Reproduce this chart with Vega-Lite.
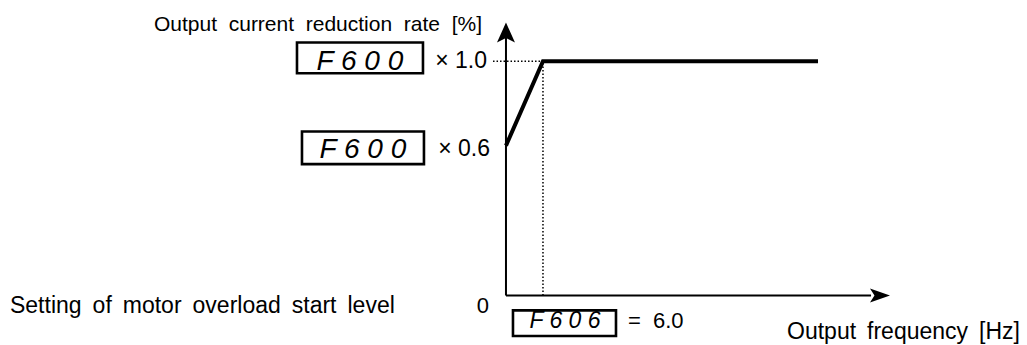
{
  "$schema": "https://vega.github.io/schema/vega-lite/v6.json",
  "width": 1027,
  "height": 345,
  "autosize": {"type": "fit", "contains": "padding"},
  "padding": 0,
  "background": "white",
  "config": {"view": {"stroke": null}, "text": {"font": "Liberation Sans", "color": "black"}},
  "datasets": {
    "curve": [{"f": 0, "r": 0.64}, {"f": 6, "r": 1.0}, {"f": 50.6, "r": 1.0}],
    "axes": [
      {"seg": "x", "f": 0, "r": 0}, {"seg": "x", "f": 59.2, "r": 0},
      {"seg": "y", "f": 0, "r": 0}, {"seg": "y", "f": 0, "r": 1.1}
    ],
    "guides": [
      {"seg": "h", "f": -2.1, "r": 1.0}, {"seg": "h", "f": 6, "r": 1.0},
      {"seg": "v", "f": 6, "r": 0}, {"seg": "v", "f": 6, "r": 1.0}
    ],
    "arrows": [{"dir": "up", "f": 0, "r": 1.1224}, {"dir": "right", "f": 60.65, "r": 0}],
    "boxes": [
      {"f": -33.89, "f2": -13.46, "r": 0.949, "r2": 1.08},
      {"f": -33.08, "f2": -13.3, "r": 0.561, "r2": 0.7},
      {"f": 1.135, "f2": 17.84, "r": -0.173, "r2": -0.0633}
    ],
    "segBig": [
      {"f": -23.68, "r": 0.964, "label": "F 6 0 0"},
      {"f": -23.2, "r": 0.586, "label": "F 6 0 0"}
    ],
    "segSmall": [{"f": 9.57, "r": -0.139, "label": "F 6 0 6"}],
    "title": [{"f": -3.89, "r": 1.131, "label": "Output\u00a0 current\u00a0 reduction\u00a0 rate\u00a0 [%]"}],
    "mult": [
      {"f": -3.08, "r": 0.97, "label": "× 1.0"},
      {"f": -2.59, "r": 0.595, "label": "× 0.6"}
    ],
    "setting": [{"f": -80.43, "r": -0.076, "label": "Setting\u2009 of\u2009 motor\u2009 overload\u2009 start\u2009 level"}],
    "zero": [{"f": -3.73, "r": -0.076, "label": "0"}],
    "eq": [{"f": 19.78, "r": -0.139, "label": "=\u00a0 6.0"}],
    "xtitle": [{"f": 83.35, "r": -0.186, "label": "Output\u2009 frequency\u2009 [Hz]"}]
  },
  "encoding": {
    "x": {"field": "f", "type": "quantitative", "scale": {"domain": [-82.05, 84.49], "nice": false, "zero": false}, "axis": null},
    "y": {"field": "r", "type": "quantitative", "scale": {"domain": [-0.1941, 1.2616], "nice": false, "zero": false}, "axis": null}
  },
  "layer": [
    {
      "data": {"name": "guides"},
      "mark": {"type": "line", "color": "black", "strokeWidth": 1.5, "strokeDash": [1.5, 2]},
      "encoding": {"detail": {"field": "seg", "type": "nominal"}}
    },
    {
      "data": {"name": "axes"},
      "mark": {"type": "line", "color": "black", "strokeWidth": 2},
      "encoding": {"detail": {"field": "seg", "type": "nominal"}}
    },
    {
      "data": {"name": "arrows"},
      "mark": {"type": "point", "filled": true, "color": "black", "opacity": 1, "size": 400},
      "encoding": {
        "shape": {"field": "dir", "type": "nominal", "legend": null,
          "scale": {"domain": ["up", "right"], "range": ["M0,-1L0.9,1L0,0.55L-0.9,1Z", "M1,0L-1,-0.7L-0.55,0L-1,0.7Z"]}}
      }
    },
    {
      "data": {"name": "curve"},
      "mark": {"type": "line", "color": "black", "strokeWidth": 4, "strokeJoin": "miter"},
      "encoding": {}
    },
    {
      "data": {"name": "boxes"},
      "mark": {"type": "rect", "filled": false, "stroke": "black", "strokeWidth": 2.6},
      "encoding": {
        "x2": {"field": "f2"},
        "y2": {"field": "r2"}
      }
    },
    {
      "data": {"name": "segBig"},
      "mark": {"type": "text", "fontSize": 28, "fontStyle": "italic", "align": "center", "baseline": "alphabetic"},
      "encoding": {"text": {"field": "label"}}
    },
    {
      "data": {"name": "segSmall"},
      "mark": {"type": "text", "fontSize": 23, "fontStyle": "italic", "align": "center", "baseline": "alphabetic"},
      "encoding": {"text": {"field": "label"}}
    },
    {
      "data": {"name": "title"},
      "mark": {"type": "text", "fontSize": 21, "align": "right", "baseline": "alphabetic"},
      "encoding": {"text": {"field": "label"}}
    },
    {
      "data": {"name": "mult"},
      "mark": {"type": "text", "fontSize": 23, "align": "right", "baseline": "alphabetic"},
      "encoding": {"text": {"field": "label"}}
    },
    {
      "data": {"name": "setting"},
      "mark": {"type": "text", "fontSize": 23, "align": "left", "baseline": "alphabetic"},
      "encoding": {"text": {"field": "label"}}
    },
    {
      "data": {"name": "zero"},
      "mark": {"type": "text", "fontSize": 22, "align": "center", "baseline": "alphabetic"},
      "encoding": {"text": {"field": "label"}}
    },
    {
      "data": {"name": "eq"},
      "mark": {"type": "text", "fontSize": 22, "align": "left", "baseline": "alphabetic"},
      "encoding": {"text": {"field": "label"}}
    },
    {
      "data": {"name": "xtitle"},
      "mark": {"type": "text", "fontSize": 23, "align": "right", "baseline": "alphabetic"},
      "encoding": {"text": {"field": "label"}}
    }
  ]
}
